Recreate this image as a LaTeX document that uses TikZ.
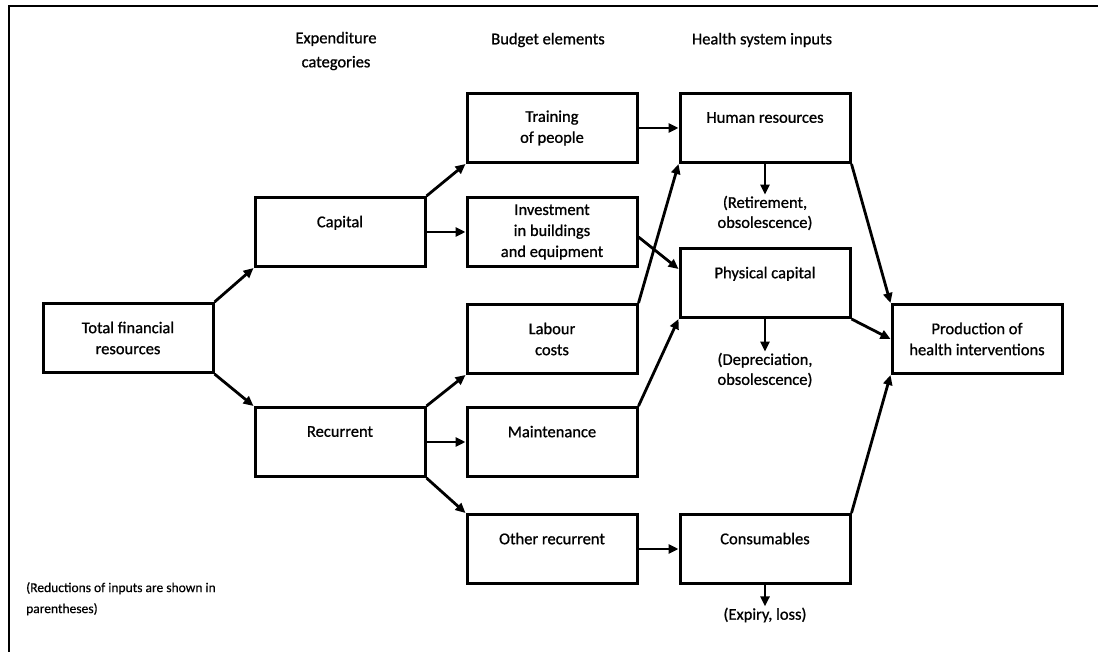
\documentclass[tikz,border=0pt]{standalone}
\usepackage{fontspec}
\setmainfont{Carlito}[FakeBold=0.9]
\newfontfamily\notefont{Carlito}[FakeBold=0.4]
\usetikzlibrary{arrows.meta}

\begin{document}
\begin{tikzpicture}[x=1pt,y=-1pt,
  stagebox/.style={draw, line width=3pt, minimum width=170pt, minimum height=69pt,
    inner sep=0pt, align=center, font=\fontsize{16.5}{21}\selectfont},
  headtext/.style={align=center, inner sep=0pt, font=\fontsize{16.5}{24}\selectfont},
  losstext/.style={align=center, inner sep=1pt, font=\fontsize{16.5}{20}\selectfont},
  flow/.style={line width=2.8pt, -{Triangle[length=10pt,width=9pt]}},
  frameline/.style={line width=2pt}]

\useasboundingbox (0,0) rectangle (1098,652);

% outer frame (top and left rules)
\coordinate (ftl) at (9,6.5);
\coordinate (ftr) at (1098,6.5);
\coordinate (fbl) at (9,652);
\draw[frameline] (ftr) -- (ftl) -- (fbl);

% column headings
\node[headtext] (hexp) at (336,51) {Expenditure\\categories};
\node[headtext] (hbud) at (548,40) {Budget elements};
\node[headtext] (hhsi) at (762,40) {Health system inputs};

% stage boxes
\node[stagebox] (total)   at (128,338)   {Total financial\\resources};
\node[stagebox] (capital) at (340,232)   {Capital\\\phantom{X}};
\node[stagebox] (recur)   at (340,442)   {Recurrent\\\phantom{X}};
\node[stagebox] (train)   at (552,128)   {Training\\of people};
\node[stagebox] (invest)  at (552,232)   {Investment\\in buildings\\and equipment};
\node[stagebox] (labour)  at (552,339)   {Labour\\costs};
\node[stagebox] (maint)   at (552,442)   {Maintenance\\\phantom{X}};
\node[stagebox] (other)   at (552,549)   {Other recurrent\\\phantom{X}};
\node[stagebox] (human)   at (765,128)   {Human resources\\\phantom{X}};
\node[stagebox] (phys)    at (765,283)   {Physical capital\\\phantom{X}};
\node[stagebox] (cons)    at (765,549)   {Consumables\\\phantom{X}};
\node[stagebox] (prod)    at (977,339)   {Production of\\health interventions};

% reductions of inputs
\node[losstext] (retire) at (765,213) {(Retirement,\\obsolescence)};
\node[losstext] (deprec) at (765,370) {(Depreciation,\\obsolescence)};
\node[losstext] (expiry) at (765,615) {(Expiry, loss)};

% note
\node[align=left, anchor=north west, inner sep=0pt,
      font=\notefont\fontsize{13.5}{21}\selectfont] (note) at (26,582)
  {(Reductions of inputs are shown in\\parentheses)};

% flows
\draw[flow] (total.north east) -- (capital.south west);
\draw[flow] (total.south east) -- (recur.north west);
\draw[flow] (capital.north east) -- (train.south west);
\draw[flow] (capital.east) -- (invest.west);
\draw[flow] (recur.north east) -- (labour.south west);
\draw[flow] (recur.east) -- (maint.west);
\draw[flow] (recur.south east) -- (other.north west);
\draw[flow] (train.east) -- (human.west);
\draw[flow] ([yshift=-5pt]invest.east) -- ([yshift=14pt]phys.west);
\draw[flow] (labour.north east) -- (human.south west);
\draw[flow] (maint.north east) -- (phys.south west);
\draw[flow] (other.east) -- (cons.west);
\draw[flow] (human.south east) -- (prod.north west);
\draw[flow] (phys.south east) -- (prod.west);
\draw[flow] (cons.north east) -- (prod.south west);
\draw[flow] (human.south) -- (retire.north);
\draw[flow] (phys.south) -- (deprec.north);
\draw[flow] (cons.south) -- (expiry.north);

\end{tikzpicture}
\end{document}
